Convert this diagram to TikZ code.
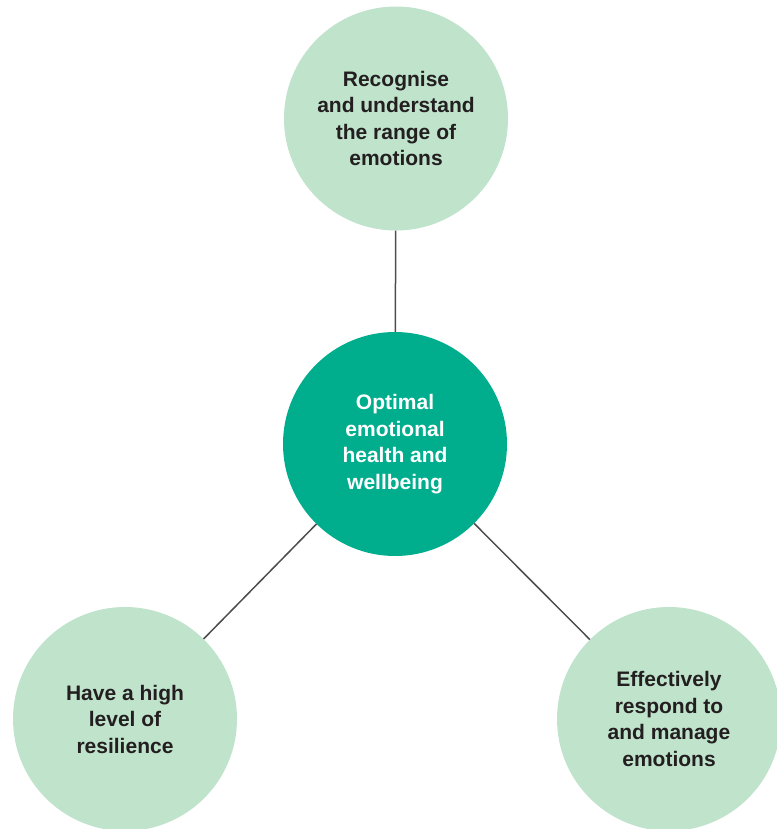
\documentclass[tikz,border=0pt]{standalone}
\usepackage{fontspec}
\setmainfont{Liberation Sans}
\definecolor{lightgreen}{HTML}{C0E3CC}
\definecolor{teal}{HTML}{00AE8E}
\definecolor{txt}{HTML}{231F20}
\definecolor{conn}{HTML}{4D4D4D}
\begin{document}
\begin{tikzpicture}[x=1pt,y=-1pt,
  bubble/.style={circle,minimum size=224pt,inner sep=0pt,align=center,
    font=\fontsize{21}{26.5}\selectfont\bfseries},
  outer/.style={bubble,fill=lightgreen,text=txt},
  core/.style={bubble,fill=teal,text=white},
  link/.style={draw=conn,line width=1.5pt}]
\useasboundingbox (0,0) rectangle (776,829);
\node[outer] (top) at (396,118.5) {Recognise\\and understand\\the range of\\emotions};
\node[core] (mid) at (395,444) {Optimal\\emotional\\health and\\wellbeing};
\node[outer] (left) at (125,719) {Have a high\\level of\\resilience};
\node[outer] (right) at (669,719) {Effectively\\respond to\\and manage\\emotions};
\draw[link] (top) -- (mid);
\draw[link] (mid) -- (left);
\draw[link] (mid) -- (right);
\end{tikzpicture}
\end{document}
